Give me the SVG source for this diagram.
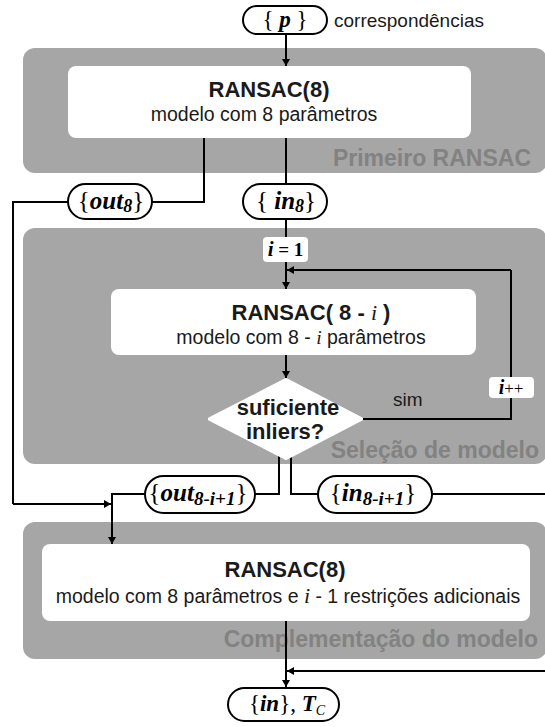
<svg xmlns="http://www.w3.org/2000/svg" width="545" height="727" viewBox="0 0 545 727">
<defs>
<marker id="ah" viewBox="0 0 10 10" refX="10" refY="5" markerWidth="7" markerHeight="8" markerUnits="userSpaceOnUse" orient="auto" preserveAspectRatio="none"><path d="M0,0 L10,5 L0,10 z" fill="#000"/></marker>
<style>
.panel{fill:#a6a6a6}
.box{fill:#fff}
.pill{fill:#fff;stroke:#000;stroke-width:2}
.ln{fill:none;stroke:#000;stroke-width:2}
.arr{fill:none;stroke:#000;stroke-width:2;marker-end:url(#ah)}
.title{font-family:"Liberation Sans",Arial,sans-serif;font-weight:bold;font-size:22px;fill:#1a1a1a;text-anchor:middle}
.sub{font-family:"Liberation Sans",Arial,sans-serif;font-size:19.5px;fill:#1a1a1a;text-anchor:middle}
.grp{font-family:"Liberation Sans",Arial,sans-serif;font-weight:bold;font-size:23px;fill:#828282;text-anchor:end}
.ser{font-family:"Liberation Serif","Times New Roman",serif;fill:#000}
.bi{font-weight:bold;font-style:italic}
.it{font-style:italic}
.lbl{font-family:"Liberation Sans",Arial,sans-serif;font-size:19px;fill:#1a1a1a}
</style>
</defs>
<g id="panels">
<rect class="panel" x="23" y="48" width="524" height="125" rx="12"/>
<rect class="panel" x="23" y="228" width="524" height="236" rx="12"/>
<rect class="panel" x="23" y="522" width="524" height="137" rx="12"/>
<text class="grp" x="531" y="166">Primeiro RANSAC</text>
<text class="grp" x="539" y="458">Seleção de modelo</text>
<text class="grp" x="538" y="647">Complementação do modelo</text>
</g>
<g id="connectors">
<path class="arr" d="M286,34 V66"/>
<path class="ln" d="M286,138 V184"/>
<path class="ln" d="M286,219 V237"/>
<path class="arr" d="M286,262 V289"/>
<path class="ln" d="M204,138 V202 H152"/>
<path class="ln" d="M68,202 H13 V504"/>
<path class="arr" d="M13,504 H111"/>
<path class="arr" d="M286,355 V378"/>
<path class="ln" d="M363,419 H511 V398"/>
<path class="ln" d="M511,377 V270"/>
<path class="arr" d="M511,270 H287"/>
<path class="ln" d="M279,450 V494 H255"/>
<path class="ln" d="M145,494 H112"/>
<path class="arr" d="M112,493 V544"/>
<path class="ln" d="M291,450 V494 H318"/>
<path class="ln" d="M432,494 H545"/>
<path class="arr" d="M286,621 V687"/>
<path class="arr" d="M545,671 H287"/>
</g>
<g id="n-p">
<rect class="pill" x="243" y="6" width="84" height="28" rx="14"/>
<text class="ser" x="285" y="27" text-anchor="middle" font-size="23">{ <tspan class="bi">p</tspan> }</text>
<text class="lbl" x="334" y="27">correspondências</text>
</g>
<g id="n-ransac1">
<rect class="box" x="68" y="66" width="403" height="72" rx="8"/>
<text class="title" x="269" y="97">RANSAC(8)</text>
<text class="sub" x="264" y="121">modelo com 8 parâmetros</text>
</g>
<g id="n-out8">
<rect class="pill" x="68" y="184" width="84" height="35" rx="17.5"/>
<text class="ser" x="111" y="209" text-anchor="middle" font-size="25">{<tspan class="bi">out</tspan><tspan class="bi" font-size="18" dy="3">8</tspan><tspan dy="-3">}</tspan></text>
</g>
<g id="n-in8">
<rect class="pill" x="243" y="184" width="84" height="35" rx="17.5"/>
<text class="ser" x="286" y="209" text-anchor="middle" font-size="25">{ <tspan class="bi">in</tspan><tspan class="bi" font-size="18" dy="3">8</tspan><tspan dy="-3">}</tspan></text>
</g>
<g id="n-i1">
<rect class="box" x="263" y="237" width="45" height="25" rx="4"/>
<text class="ser" x="285.5" y="256" text-anchor="middle" font-size="19" font-weight="bold"><tspan class="it" font-size="21">i</tspan> = 1</text>
</g>
<g id="n-ransac2">
<rect class="box" x="111" y="289" width="365" height="66" rx="8"/>
<text class="title" x="311" y="320">RANSAC( 8 - <tspan font-family="Liberation Serif,serif" font-style="italic" font-weight="normal">i</tspan> )</text>
<text class="sub" x="301" y="344">modelo com 8 - <tspan font-family="Liberation Serif,serif" font-style="italic">i</tspan> parâmetros</text>
</g>
<g id="n-decision">
<path class="box" stroke="#fff" stroke-width="4" stroke-linejoin="round" d="M286,380 L361,419 L286,458 L210,419 Z"/>
<text class="title" x="288" y="415" font-size="18">suficiente</text>
<text class="title" x="285" y="439" font-size="18">inliers?</text>
<text class="lbl" x="393" y="406">sim</text>
</g>
<g id="n-iinc">
<rect class="box" x="489" y="377" width="45" height="21" rx="4"/>
<text class="ser" x="511" y="394" text-anchor="middle" font-size="17"><tspan class="bi" font-size="20">i</tspan>++</text>
</g>
<g id="n-out">
<rect class="pill" x="145" y="476" width="110" height="37" rx="18.5"/>
<text class="ser" x="198" y="501" text-anchor="middle" font-size="25">{<tspan class="bi">out</tspan><tspan class="bi" font-size="19" dy="4">8-i+1</tspan><tspan dy="-4">}</tspan></text>
</g>
<g id="n-in">
<rect class="pill" x="318" y="476" width="114" height="37" rx="18.5"/>
<text class="ser" x="373" y="501" text-anchor="middle" font-size="25">{<tspan class="bi">in</tspan><tspan class="bi" font-size="19" dy="4">8-i+1</tspan><tspan dy="-4">}</tspan></text>
</g>
<g id="n-ransac3">
<rect class="box" x="42" y="544" width="488" height="77" rx="8"/>
<text class="title" x="285" y="577">RANSAC(8)</text>
<text class="sub" x="288" y="603">modelo com 8 parâmetros e <tspan font-family="Liberation Serif,serif" font-style="italic" font-size="22">i</tspan> - 1 restrições adicionais</text>
</g>
<g id="n-result">
<rect class="pill" x="228" y="688" width="111" height="33" rx="16.5"/>
<text class="ser" x="287" y="711" text-anchor="middle" font-size="23">{<tspan class="bi">in</tspan>}, <tspan class="bi">T</tspan><tspan class="it" font-size="14" dy="4">C</tspan></text>
</g>
</svg>
